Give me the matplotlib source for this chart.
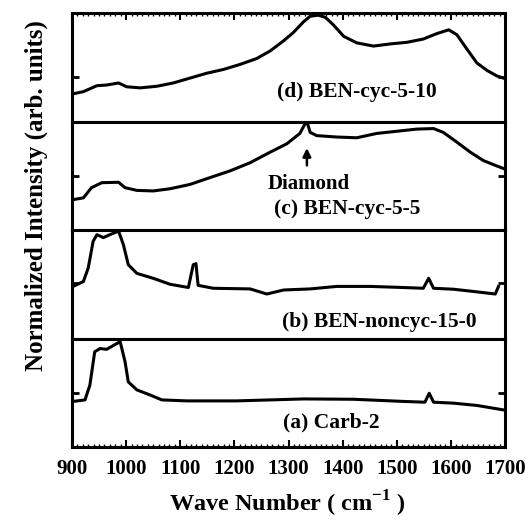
import numpy as np
import matplotlib
matplotlib.use('Agg')
import matplotlib.pyplot as plt
from matplotlib.ticker import MultipleLocator

plt.rcParams['font.family'] = ['Liberation Serif', 'DejaVu Serif']
plt.rcParams['font.weight'] = 'bold'
plt.rcParams['mathtext.fontset'] = 'custom'
plt.rcParams['mathtext.rm'] = 'Liberation Serif:bold'
plt.rcParams['mathtext.bf'] = 'Liberation Serif:bold'

# Raman spectra, normalized to each panel (0..1)
wn_d = [902, 921, 946, 964, 986, 1001, 1026, 1057, 1087, 1118, 1149, 1180, 1211,
        1241, 1266, 1290, 1309, 1328, 1340, 1355, 1368, 1383, 1402, 1426, 1457,
        1488, 1519, 1549, 1574, 1596, 1611, 1630, 1648, 1667, 1685, 1697]
int_d = [0.255, 0.275, 0.33, 0.336, 0.355, 0.32, 0.31, 0.325, 0.355, 0.40, 0.445, 0.48, 0.527,
         0.58, 0.65, 0.74, 0.82, 0.92, 0.97, 0.98, 0.96, 0.89, 0.785, 0.725, 0.695,
         0.715, 0.73, 0.76, 0.81, 0.845, 0.80, 0.665, 0.54, 0.47, 0.42, 0.40]

wn_c = [902, 921, 936, 955, 986, 998, 1020, 1050, 1081, 1118, 1155, 1192, 1229,
        1266, 1297, 1321, 1329, 1334, 1340, 1352, 1389, 1426, 1463, 1500, 1537,
        1568, 1586, 1611, 1636, 1660, 1685, 1697]
int_c = [0.28, 0.296, 0.39, 0.436, 0.44, 0.39, 0.365, 0.36, 0.38, 0.42, 0.483, 0.545, 0.62,
         0.717, 0.795, 0.89, 0.965, 1.0, 0.90, 0.87, 0.857, 0.85, 0.89, 0.91, 0.93,
         0.935, 0.90, 0.81, 0.717, 0.64, 0.59, 0.567]

wn_b = [902, 921, 930, 939, 946, 958, 970, 986, 995, 1004, 1020, 1050, 1081, 1115,
        1124, 1129, 1133, 1161, 1229, 1260, 1291, 1340, 1389, 1451, 1512, 1549,
        1559, 1568, 1605, 1648, 1682, 1688]
int_b = [0.48, 0.525, 0.65, 0.895, 0.957, 0.93, 0.957, 0.99, 0.864, 0.68, 0.60, 0.555, 0.50, 0.47,
         0.68, 0.69, 0.49, 0.463, 0.457, 0.41, 0.447, 0.457, 0.48, 0.48, 0.47, 0.463,
         0.555, 0.463, 0.454, 0.43, 0.41, 0.48]

wn_a = [902, 924, 933, 942, 952, 964, 983, 989, 998, 1004, 1020, 1044, 1066, 1112,
        1204, 1328, 1420, 1512, 1552, 1560, 1568, 1605, 1648, 1697]
int_a = [0.42, 0.434, 0.57, 0.878, 0.908, 0.90, 0.954, 0.97, 0.786, 0.60, 0.526, 0.48, 0.434, 0.425,
         0.425, 0.443, 0.44, 0.42, 0.413, 0.495, 0.413, 0.404, 0.383, 0.342]

labels = ['(d) BEN-cyc-5-10', '(c) BEN-cyc-5-5', '(b) BEN-noncyc-15-0', '(a) Carb-2']
label_x = [1427, 1408, 1467, 1379]
label_y = [0.27, 0.19, 0.15, 0.23]
ytick_pos = [0.41, 0.5, 0.51, 0.5]

spectra = [(wn_d, int_d), (wn_c, int_c), (wn_b, int_b), (wn_a, int_a)]

fig = plt.figure(figsize=(5.26, 5.2), dpi=100)
left, right, top, bottom = 72 / 526, 505 / 526, 1 - 13 / 520, 1 - 447 / 520
h = (top - bottom) / 4
axes = []
for i in range(4):
    ax = fig.add_axes([left, top - (i + 1) * h, right - left, h])
    axes.append(ax)

for i, ax in enumerate(axes):
    x, y = spectra[i]
    ax.plot(x, y, color='black', lw=2.2, solid_joinstyle='round')
    ax.set_xlim(900, 1700)
    ax.set_ylim(0, 1)
    ax.set_yticks([ytick_pos[i]])
    ax.set_yticklabels([])
    ax.tick_params(axis='y', direction='in', left=True, right=True, length=5, width=2)
    ax.xaxis.set_major_locator(MultipleLocator(100))
    ax.xaxis.set_minor_locator(MultipleLocator(10))
    ax.tick_params(axis='x', which='both', direction='in', top=(i == 0), bottom=(i == 3),
                   labelbottom=(i == 3))
    ax.tick_params(axis='x', which='major', length=5, width=1.5)
    ax.tick_params(axis='x', which='minor', length=2, width=1)
    for s in ax.spines.values():
        s.set_linewidth(2.2)
    ax.text(label_x[i], label_y[i], labels[i], ha='center', va='center',
            fontsize=15.5, fontweight='bold')

axes[3].tick_params(axis='x', labelsize=15, pad=9)
for t in axes[3].get_xticklabels():
    t.set_fontweight('bold')

# Diamond arrow in panel (c)
axes[1].annotate('', xy=(1334, 0.78), xytext=(1334, 0.57),
                 arrowprops=dict(arrowstyle='-|>', color='black', lw=1.8, mutation_scale=12))
axes[1].text(1338, 0.42, 'Diamond', ha='center', va='center', fontsize=15, fontweight='bold')

fig.text(287 / 526, 1 - 512 / 520, 'Wave Number ( cm$^{-1}$ )', ha='center', va='baseline',
         fontsize=17.5, fontweight='bold')
fig.text(36 / 526, 1 - 196 / 520, 'Normalized Intensity (arb. units)', ha='center', va='center',
         rotation=90, fontsize=18, fontweight='bold')

fig.savefig('out.png', dpi=100)
